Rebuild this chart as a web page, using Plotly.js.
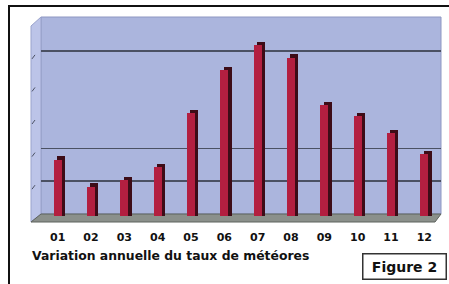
<!DOCTYPE html>
<html>
<head>
<meta charset="utf-8">
<script src="https://cdn.plot.ly/plotly-3.0.1.min.js"></script>
<style>
html,body{margin:0;padding:0;background:#fff;}
#chart{width:449px;height:284px;}
</style>
</head>
<body>
<div id="chart"></div>
<script>
// ---- data ----
var months = ["01","02","03","04","05","06","07","08","09","10","11","12"];
var rates = [1.66, 0.83, 1.04, 1.44, 3.10, 4.42, 5.18, 4.79, 3.34, 3.00, 2.48, 1.84];
var gridVals = [1, 2, 5];
var wallTicks = [1, 2, 3, 4, 5];
var titleText = "Variation annuelle du taux de météores";
var figText = "Figure 2";

// ---- layout geometry ----
var W = 449, Hh = 284;
var m = {l: 41, r: 8, t: 17, b: 67};
var PW = W - m.l - m.r, PH = Hh - m.t - m.b;
var yMin = -0.1, yMax = 6.04;
function X(px){ return (px - m.l) / PW; }
function Y(py){ return (Hh - m.b - py) / PH; }
function yPix(v){ return m.t + (yMax - v) / (yMax - yMin) * PH; }

var base = -0.06, depth = 0.1, bw = 0.24;
var heavy = '"DejaVu Sans", "Liberation Sans", Arial, sans-serif';

var front = {
  type: 'bar', x: months,
  y: rates.map(function(v){ return v - base; }),
  base: base, width: bw, offset: -bw/2,
  marker: {color: '#b31f40', line: {width: 0}},
  hoverinfo: 'skip'
};
var side = {
  type: 'bar', x: months,
  y: rates.map(function(v){ return v + depth - base; }),
  base: base, width: bw, offset: -bw/2 + depth,
  marker: {color: '#3d0c17', line: {width: 0}},
  hoverinfo: 'skip'
};

var shapes = [
  // back wall
  {type:'rect', xref:'paper', yref:'paper', x0:X(41), x1:X(441), y0:Y(214), y1:Y(17),
   fillcolor:'#abb5dd', line:{color:'#8e97c2', width:1}, layer:'below'},
  // left wall
  {type:'path', xref:'paper', yref:'paper',
   path:'M'+X(31)+','+Y(26)+' L'+X(41)+','+Y(17)+' L'+X(41)+','+Y(214)+' L'+X(31)+','+Y(222)+' Z',
   fillcolor:'#bcc4e8', line:{color:'#9aa3cc', width:1}, layer:'below'},
  // floor
  {type:'path', xref:'paper', yref:'paper',
   path:'M'+X(31)+','+Y(222)+' L'+X(41)+','+Y(214)+' L'+X(441)+','+Y(214)+' L'+X(435)+','+Y(222)+' Z',
   fillcolor:'#8b908b', line:{color:'#5d625d', width:1}, layer:'below'},
  // outer frame
  {type:'rect', xref:'paper', yref:'paper', x0:X(9), x1:X(480), y0:Y(320), y1:Y(6),
   fillcolor:'rgba(0,0,0,0)', line:{color:'#111', width:2}, layer:'below'}
];
wallTicks.forEach(function(k){
  var gy = yPix(k);
  shapes.push({type:'line', xref:'paper', yref:'paper',
    x0:X(32), y0:Y(gy+8), x1:X(35), y1:Y(gy+4),
    line:{color:'#4b5163', width:1}, layer:'below'});
});

var layout = {
  width: W, height: Hh,
  margin: m,
  paper_bgcolor: '#ffffff',
  plot_bgcolor: 'rgba(0,0,0,0)',
  showlegend: false,
  barmode: 'overlay',
  bargap: 0,
  font: {family: heavy, color: '#111'},
  title: {
    text: titleText,
    x: 32 / W, xanchor: 'left', xref: 'container',
    y: 1 - 256 / Hh, yanchor: 'middle', yref: 'container',
    font: {size: 12.4, weight: 'bold', color: '#111', family: heavy}
  },
  xaxis: {
    type: 'category', range: [-0.5, 11.5],
    showgrid: false, zeroline: false, showline: false,
    ticks: '', ticklabelstandoff: 12,
    tickfont: {size: 11, weight: 'bold', color: '#111', family: heavy},
    fixedrange: true
  },
  yaxis: {
    range: [yMin, yMax],
    tickvals: gridVals, showticklabels: false, ticks: '',
    showgrid: true, gridcolor: '#4b5163', gridwidth: 1.5,
    zeroline: false, showline: false, fixedrange: true
  },
  shapes: shapes,
  annotations: [{
    text: figText, xref: 'paper', yref: 'paper',
    x: X(404), y: Y(266), xanchor: 'center', yanchor: 'middle',
    showarrow: false, width: 80, height: 22,
    bordercolor: '#333', borderwidth: 1.5, borderpad: 1, bgcolor: '#fff',
    font: {size: 14, weight: 'bold', color: '#111', family: heavy}
  }]
};

Plotly.newPlot('chart', [side, front], layout, {staticPlot: true, displayModeBar: false});
</script>
</body>
</html>
